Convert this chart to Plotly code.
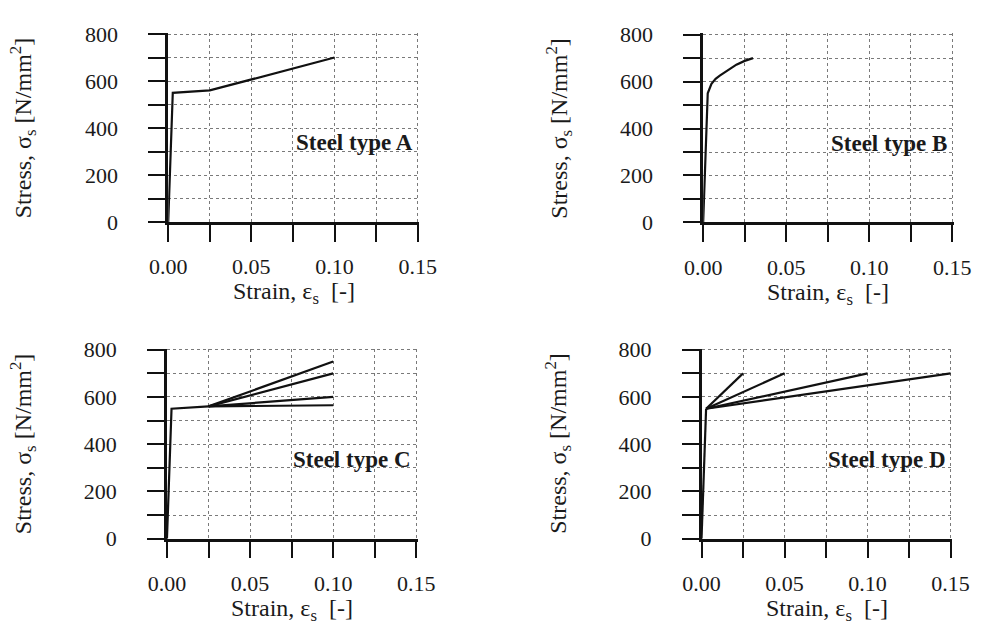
import plotly.graph_objects as go

# ---------------- data ----------------
a_strain = [0.0, 0.00275, 0.025, 0.10]
a_stress = [0, 550, 560, 700]

b_strain = [0.0, 0.00275, 0.005, 0.0075, 0.010, 0.015, 0.020, 0.025, 0.030]
b_stress = [0, 550, 590, 612, 625, 650, 672, 688, 700]

c_base_strain = [0.0, 0.00275, 0.025]
c_base_stress = [0, 550, 560]
c_branch_end_strain = 0.10
c_branch_end_stress = [750, 700, 600, 565]

d_base_strain = [0.0, 0.00275]
d_base_stress = [0, 550]
d_branch_end_strain = [0.025, 0.05, 0.10, 0.15]
d_branch_end_stress = [700, 700, 700, 700]

panel_labels = ["Steel type A", "Steel type B", "Steel type C", "Steel type D"]
x_ticks = [0.0, 0.05, 0.10, 0.15]
x_ticklabels = ["0.00", "0.05", "0.10", "0.15"]
y_ticks = [0, 200, 400, 600, 800]

# ---------------- layout ----------------
W, H = 991, 639
FONT = "Liberation Serif, Times New Roman, serif"
TXT = "#1a1a1a"
GRID = "#7a7a7a"

# pixel boxes of each plot area: (left, right, top, bottom)
boxes = [
    (155.0, 415.7, 22.7, 219.3),
    (710.7, 971.0, 23.3, 219.7),
    (153.7, 414.3, 350.7, 548.3),
    (709.0, 969.3, 350.7, 548.3),
]

fig = go.Figure()

def add_line(xs, ys, k):
    fig.add_trace(go.Scatter(
        x=xs, y=ys, mode="lines",
        line=dict(color="#111111", width=2.2),
        xaxis=f"x{k if k > 1 else ''}", yaxis=f"y{k if k > 1 else ''}",
        showlegend=False, hoverinfo="skip"))

add_line(a_strain, a_stress, 1)
add_line(b_strain, b_stress, 2)
add_line(c_base_strain, c_base_stress, 3)
for s in c_branch_end_stress:
    add_line([c_base_strain[-1], c_branch_end_strain], [c_base_stress[-1], s], 3)
add_line(d_base_strain, d_base_stress, 4)
for e, s in zip(d_branch_end_strain, d_branch_end_stress):
    add_line([d_base_strain[-1], e], [d_base_stress[-1], s], 4)

layout = dict(
    width=W, height=H,
    margin=dict(l=0, r=0, t=0, b=0),
    paper_bgcolor="white", plot_bgcolor="white",
    font=dict(family=FONT, size=22, color=TXT),
    showlegend=False,
)

annotations = []
for i, (l, r, t, b) in enumerate(boxes):
    k = i + 1
    sfx = "" if k == 1 else str(k)
    layout[f"xaxis{sfx}"] = dict(
        domain=[l / W, r / W], anchor=f"y{sfx}",
        range=[0, 0.1509], tickvals=x_ticks, ticktext=x_ticklabels,
        showline=True, linecolor="#111111", linewidth=2.5,
        ticks="outside", ticklen=17, tickwidth=2, tickcolor="#111111",
        ticklabelstandoff=6,
        showgrid=True, gridcolor=GRID, gridwidth=1, griddash="dot",
        minor=dict(dtick=0.025, tick0=0, ticks="outside", ticklen=17, tickwidth=2,
                   tickcolor="#111111", showgrid=True, gridcolor=GRID,
                   gridwidth=1, griddash="dot"),
        zeroline=False, fixedrange=True,
        tickfont=dict(family=FONT, size=22, color=TXT),
    )
    layout[f"yaxis{sfx}"] = dict(
        domain=[1 - b / H, 1 - t / H], anchor=f"x{sfx}",
        range=[0, 805], tickvals=y_ticks,
        showline=True, linecolor="#111111", linewidth=2.5,
        ticks="outside", ticklen=17, tickwidth=2, tickcolor="#111111",
        ticklabelstandoff=26,
        showgrid=True, gridcolor=GRID, gridwidth=1, griddash="dot",
        minor=dict(dtick=100, tick0=0, ticks="outside", ticklen=17, tickwidth=2,
                   tickcolor="#111111", showgrid=True, gridcolor=GRID,
                   gridwidth=1, griddash="dot"),
        zeroline=False, fixedrange=True,
        tickfont=dict(family=FONT, size=22, color=TXT),
    )
    # panel label
    annotations.append(dict(
        text=f"<b>{panel_labels[i]}</b>", x=0.1482, y=337,
        xref=f"x{sfx}", yref=f"y{sfx}", xanchor="right", yanchor="middle",
        showarrow=False, font=dict(family=FONT, size=23, color=TXT)))
    # x title
    cx = (l + r) / 2
    annotations.append(dict(
        text="Strain, ε<sub>s</sub>  [-]", x=cx / W, y=1 - (b + 74) / H,
        xref="paper", yref="paper", xanchor="center", yanchor="middle",
        showarrow=False, font=dict(family=FONT, size=24, color=TXT)))
    # y title
    cy = (t + b) / 2
    annotations.append(dict(
        text="Stress, σ<sub>s</sub> [N/mm<sup>2</sup>]", x=(l - 150) / W, y=1 - cy / H,
        xref="paper", yref="paper", xanchor="center", yanchor="middle",
        textangle=-90, showarrow=False,
        font=dict(family=FONT, size=24, color=TXT)))

layout["annotations"] = annotations
fig.update_layout(**layout)
fig.write_html("out.html")
